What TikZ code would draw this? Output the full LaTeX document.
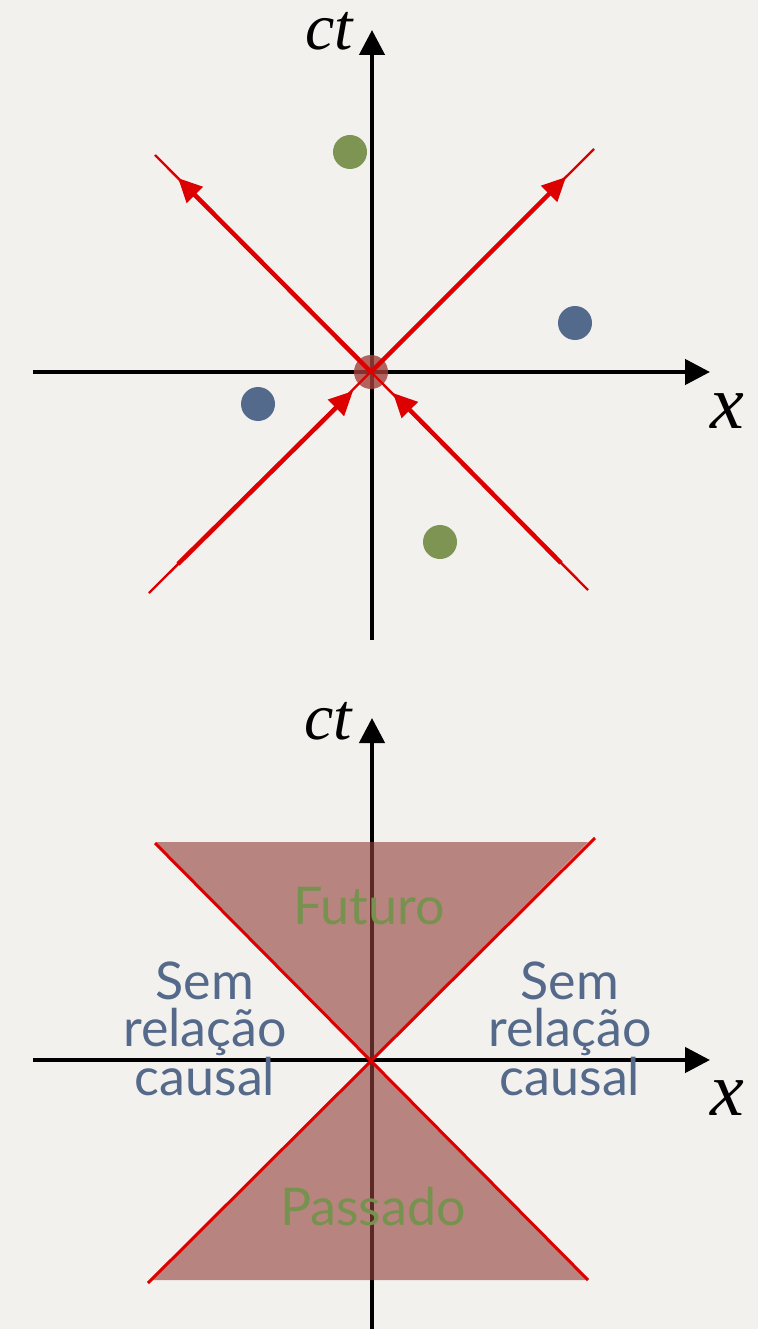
\documentclass[tikz,border=0pt]{standalone}
\usepackage{fontspec}
\setmainfont{Lato}
\newfontfamily\serifit{Liberation Serif}[ItalicFont={* Italic}]
\usetikzlibrary{arrows.meta}
\definecolor{paper}{HTML}{F2F1EE}
\definecolor{lred}{HTML}{DD0000}
\definecolor{dotgreen}{HTML}{7E9452}
\definecolor{dotblue}{HTML}{546A8C}
\definecolor{txtgreen}{HTML}{77924F}
\definecolor{txtblue}{HTML}{55698A}
\definecolor{conefill}{HTML}{95423C}
\definecolor{centerdot}{HTML}{A3403A}
\tikzset{
  axis/.style={line width=4.5pt, -{Triangle[length=25pt,width=25pt]}},
  thinred/.style={lred, line width=2.4pt},
  thickred/.style={lred, line width=4.5pt, -{Triangle[length=24pt,width=22pt]}},
  conered/.style={lred, line width=3pt},
  dot/.style={circle, inner sep=0pt, minimum size=34pt},
  cone/.style={fill=conefill, fill opacity=0.62},
  axlabel/.style={font=\serifit\itshape, text=black, anchor=base, inner sep=0pt},
  region/.style={font=\fontsize{52}{47}\selectfont, anchor=base, inner sep=0pt},
}
\begin{document}
\begin{tikzpicture}[x=1pt,y=-1pt]
\useasboundingbox (0,0) rectangle (758,1329);
\fill[paper] (0,0) rectangle (758,1329);

% ---------- top diagram ----------
\coordinate (O) at (371,372);
\coordinate (tb) at (372,640);
\coordinate (tt) at (372,30);
\coordinate (tl) at (33,372);
\coordinate (tr) at (710,372);
\draw[axis] (tb) -- (tt);
\draw[axis] (tl) -- (tr);
\node[axlabel, font=\serifit\itshape\fontsize{66}{66}\selectfont] (ct1) at (329,50) {ct};
\node[axlabel, font=\serifit\itshape\fontsize{76}{76}\selectfont] (x1) at (727,428) {x};

\node[dot, fill=centerdot, fill opacity=0.8] (c0) at (O) {};

\coordinate (UL) at (155,155);
\coordinate (UR) at (594,149);
\coordinate (LL) at (149,593);
\coordinate (LR) at (588,590);
\draw[thinred] (UL) -- (LR);
\draw[thinred] (UR) -- (LL);
\coordinate (aUL) at (178,178);
\coordinate (aUR) at (566,177);
\coordinate (sLL) at (178,564);
\coordinate (aLL) at (353,391);
\coordinate (sLR) at (561,563);
\coordinate (aLR) at (393,393);
\draw[thickred] (O) -- (aUL);
\draw[thickred] (O) -- (aUR);
\draw[thickred] (sLL) -- (aLL);
\draw[thickred] (sLR) -- (aLR);

\node[dot, fill=dotgreen] (g1) at (350,152) {};
\node[dot, fill=dotblue] (b1) at (575,323) {};
\node[dot, fill=dotblue] (b2) at (258,404) {};
\node[dot, fill=dotgreen] (g2) at (440,542) {};

% ---------- bottom diagram ----------
\coordinate (P) at (371,1060);
\coordinate (bb) at (372,1329);
\coordinate (bt) at (372,718);
\coordinate (bl) at (33,1060);
\coordinate (br) at (710,1060);
\draw[axis] (bb) -- (bt);
\draw[axis] (bl) -- (br);
\node[axlabel, font=\serifit\itshape\fontsize{66}{66}\selectfont] (ct2) at (328,739) {ct};
\node[axlabel, font=\serifit\itshape\fontsize{76}{76}\selectfont] (x2) at (727,1115) {x};

\fill[cone] (156,842) -- (588,842) -- (P) -- cycle;
\fill[cone] (151,1280) -- (588,1280) -- (P) -- cycle;

\coordinate (cUL) at (155,843);
\coordinate (cUR) at (595,838);
\coordinate (cLL) at (148,1283);
\coordinate (cLR) at (588,1280);
\draw[conered] (cUL) -- (cLR);
\draw[conered] (cUR) -- (cLL);

\node[region, text=txtgreen] (fut) at (369,924) {Futuro};
\node[region, text=txtgreen] (pas) at (373,1225) {Passado};
\node[region, text=txtblue, align=center, anchor=north] (semL) at (205,962) {Sem\\relação\\causal};
\node[region, text=txtblue, align=center, anchor=north] (semR) at (570,962) {Sem\\relação\\causal};
\end{tikzpicture}
\end{document}
